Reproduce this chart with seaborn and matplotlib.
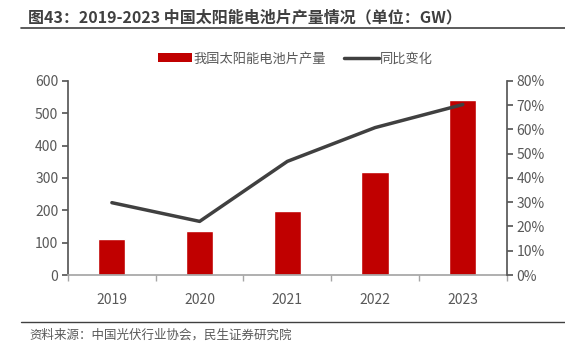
import matplotlib
matplotlib.use("Agg")
import matplotlib.pyplot as plt
import seaborn as sns
import pandas as pd
from matplotlib.lines import Line2D
from matplotlib.patches import Patch
from matplotlib.ticker import FuncFormatter

years = ["2019", "2020", "2021", "2022", "2023"]
production = [110, 135, 198, 317, 540]
yoy = [29.8, 22.1, 46.8, 60.7, 70.2]

sns.set_theme(style="white")
plt.rcParams['font.family'] = ['Noto Sans CJK SC', 'DejaVu Sans']

df = pd.DataFrame({"year": years, "prod": production, "yoy": yoy})

fig = plt.figure(figsize=(5.65, 3.43), dpi=100)
ax = fig.add_axes([0.1204, 0.198, 0.7764, 0.5667])
sns.barplot(data=df, x="year", y="prod", color="#C00000", width=0.31,
            saturation=1, ax=ax, zorder=2)
ax.set_xlim(-0.5, 4.5)
ax.set_ylim(0, 600)
ax.set_yticks(range(0, 601, 100))
ax.set_xlabel("")
ax.set_ylabel("")

ax2 = ax.twinx()
sns.lineplot(x=list(range(len(years))), y=yoy, color="#404040", linewidth=2.5,
             ax=ax2, zorder=3)
ax2.set_ylim(0, 80)
ax2.set_yticks(range(0, 81, 10))
ax2.yaxis.set_major_formatter(FuncFormatter(lambda v, p: f"{int(v)}%"))
ax.set_xlim(-0.5, 4.5)

grey = "#595959"
for a in (ax, ax2):
    for s in a.spines.values():
        s.set_visible(False)
ax.spines['left'].set_visible(True)
ax.spines['left'].set_color(grey)
ax.spines['bottom'].set_visible(True)
ax.spines['bottom'].set_color("#A6A6A6")
ax2.spines['right'].set_visible(True)
ax2.spines['right'].set_color(grey)

ax.tick_params(axis='y', left=True, length=4, color=grey, labelcolor=grey,
               labelsize=10, pad=3)
ax.set_xticks(range(5))
ax.set_xticklabels(years)
ax.tick_params(axis='x', bottom=False, labelcolor=grey, labelsize=10, pad=7)
ax.set_xticks([-0.5, 0.5, 1.5, 2.5, 3.5, 4.5], minor=True)
ax.tick_params(axis='x', which='minor', bottom=True, length=4, color="#A6A6A6")
ax2.tick_params(axis='y', right=True, length=4, color=grey, labelcolor=grey,
                labelsize=10, pad=3)
ax.grid(False)
ax2.grid(False)

handles = [Patch(facecolor="#C00000", edgecolor="none"),
           Line2D([0], [0], color="#404040", linewidth=2.5)]
fig.legend(handles, ["我国太阳能电池片产量", "同比变化"], loc="center",
           bbox_to_anchor=(0.523, 0.828), ncol=2, frameon=False, fontsize=9.5,
           handlelength=2.6, handleheight=0.7, columnspacing=1.4,
           handletextpad=0.1, labelcolor=grey)

fig.text(0.05, 0.948, "图43：2019-2023 中国太阳能电池片产量情况（单位：GW）",
         fontsize=11.5, fontweight="bold", color="#404040", va="center")
fig.add_artist(Line2D([0.037, 1.0], [0.918, 0.918], color="#404040", linewidth=1.2))
fig.add_artist(Line2D([0.037, 1.0], [0.062, 0.062], color="#404040", linewidth=1.0))
fig.text(0.052, 0.024, "资料来源：中国光伏行业协会，民生证券研究院",
         fontsize=9, color=grey, va="center")

fig.savefig("out.png", dpi=100)
